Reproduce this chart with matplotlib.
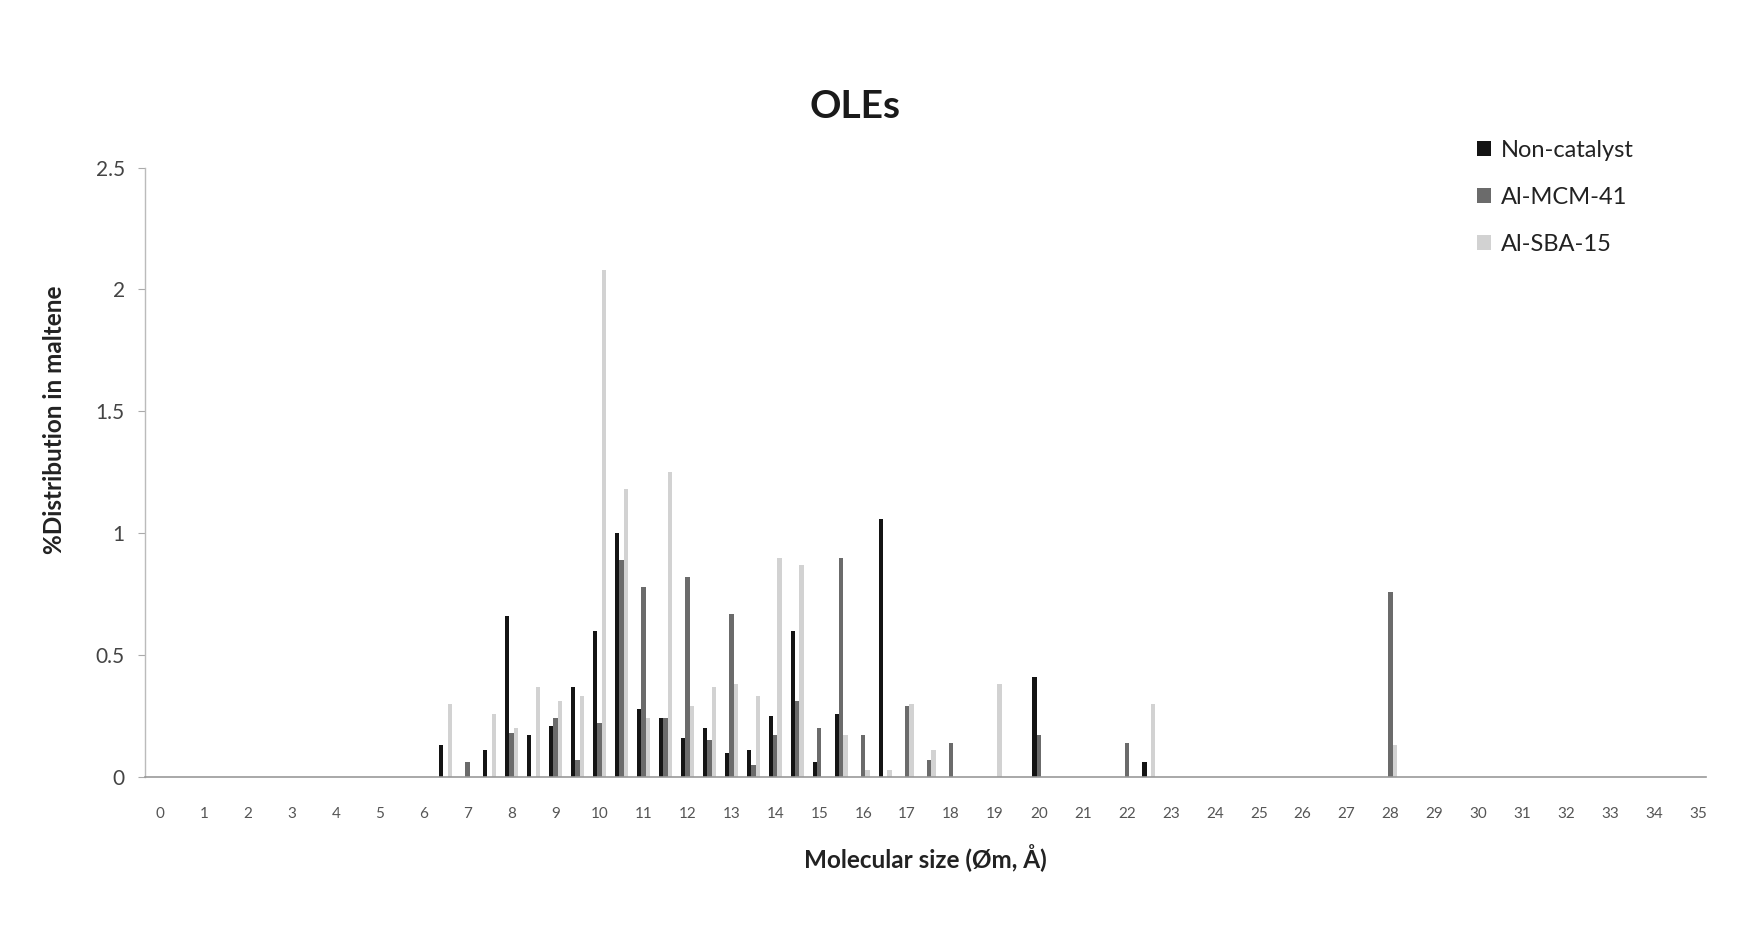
import matplotlib
matplotlib.use("Agg")
import matplotlib.pyplot as plt
import numpy as np

# Molecular size group centres (Å)
sizes = [6.5, 7.0, 7.5, 8.0, 8.5, 9.0, 9.5, 10.0, 10.5, 11.0, 11.5, 12.0, 12.5,
         13.0, 13.5, 14.0, 14.5, 15.0, 15.5, 16.0, 16.5, 17.0, 17.5, 18.0,
         19.0, 20.0, 22.0, 22.5, 28.0]

non_catalyst = [0.13, 0, 0.11, 0.66, 0.17, 0.21, 0.37, 0.60, 1.00, 0.28, 0.24, 0.16, 0.20,
                0.10, 0.11, 0.25, 0.60, 0.06, 0.26, 0, 1.06, 0, 0, 0,
                0, 0.41, 0, 0.06, 0]
al_mcm41 = [0, 0.06, 0, 0.18, 0, 0.24, 0.07, 0.22, 0.89, 0.78, 0.24, 0.82, 0.15,
            0.67, 0.05, 0.17, 0.31, 0.20, 0.90, 0.17, 0, 0.29, 0.07, 0.14,
            0, 0.17, 0.14, 0, 0.76]
al_sba15 = [0.30, 0, 0.26, 0.20, 0.37, 0.31, 0.33, 2.08, 1.18, 0.24, 1.25, 0.29, 0.37,
            0.38, 0.33, 0.90, 0.87, 0, 0.17, 0.03, 0.03, 0.30, 0.11, 0,
            0.38, 0, 0, 0.30, 0.13]

series_names = ["Non-catalyst", "Al-MCM-41", "Al-SBA-15"]
xticks = list(range(0, 36))
yticks = [0, 0.5, 1, 1.5, 2, 2.5]

plt.rcParams['font.family'] = ['Lato', 'DejaVu Sans']

fig = plt.figure(figsize=(17.53, 9.26), dpi=100)
ax = fig.add_axes([0.083, 0.161, 0.890, 0.658])

x = np.array(sizes)
w = 0.1
colors = ["#141414", "#6b6b6b", "#d2d2d2"]
for i, (vals, name) in enumerate(zip([non_catalyst, al_mcm41, al_sba15], series_names)):
    ax.bar(x + (i - 1) * w, vals, width=w, color=colors[i], label=name,
           edgecolor='none', zorder=2)

ax.set_xlim(-0.33, 35.17)
ax.set_ylim(0, 2.5)
ax.set_xticks(xticks)
ax.set_xticklabels([str(t) for t in xticks], fontsize=11, color="#555555")
ax.set_yticks(yticks)
ax.set_yticklabels(["0", "0.5", "1", "1.5", "2", "2.5"], fontsize=15, color="#444444")
ax.tick_params(axis='x', length=0, pad=22)
ax.tick_params(axis='y', length=5, direction='out', color="#aaaaaa", pad=10)

for s in ['top', 'right']:
    ax.spines[s].set_visible(False)
ax.spines['left'].set_color("#bbbbbb")
ax.spines['bottom'].set_color("#999999")
ax.spines['left'].set_linewidth(1.0)
ax.spines['bottom'].set_linewidth(1.2)

ax.set_xlabel("Molecular size (Øm, Å)", fontsize=17.5, fontweight='bold',
              color="#222222", labelpad=16)
ax.set_ylabel("%Distribution in maltene", fontsize=17.5, fontweight='bold',
              color="#222222")
ax.yaxis.set_label_coords(-0.051, 0.587)
fig.text(0.488, 0.885, "OLEs", ha='center', va='center', fontsize=28,
         fontweight='bold', color="#1a1a1a")

leg = ax.legend(loc='upper left', bbox_to_anchor=(0.840, 1.08), frameon=False,
                fontsize=17, handlelength=0.6, handleheight=0.6,
                handletextpad=0.4, labelspacing=1.1, labelcolor="#222222")

fig.savefig("out.png", dpi=100, facecolor='white')
